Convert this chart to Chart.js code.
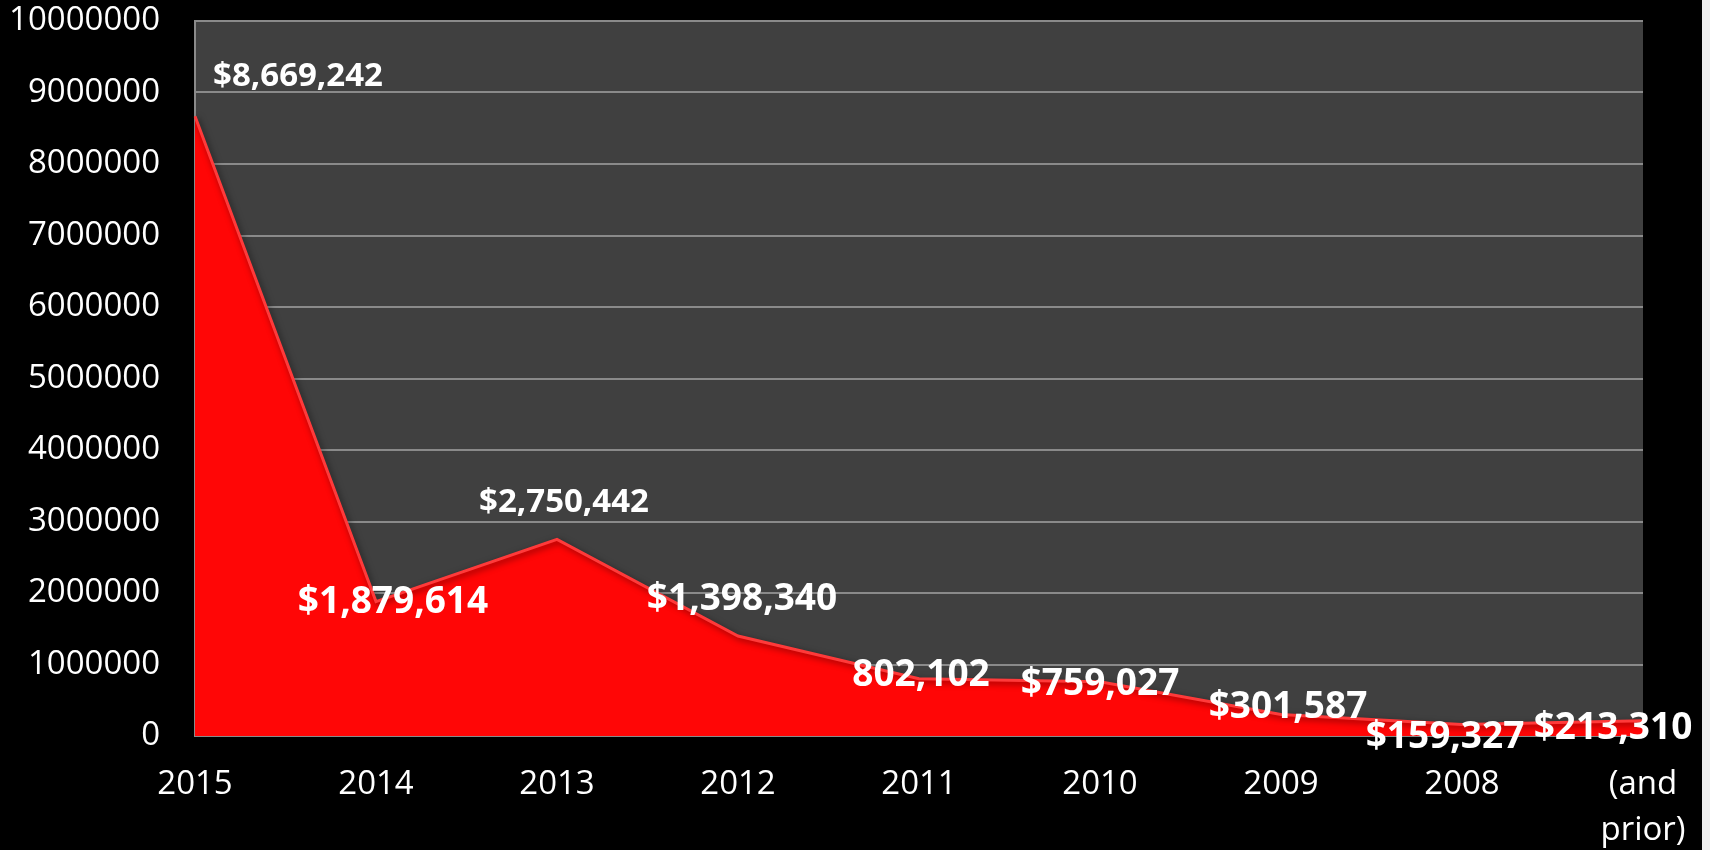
<!DOCTYPE html>
<html>
<head>
<meta charset="utf-8">
<script src="https://cdn.jsdelivr.net/npm/chart.js@4.4.1/dist/chart.umd.min.js"></script>
<style>
  html, body { margin: 0; padding: 0; background: #efefef; }
  #wrap { width: 1702px; height: 850px; background: #000; }
</style>
</head>
<body>
<div id="wrap"><canvas id="chart"></canvas></div>
<script>
// ================= DATA =================
const years = ["2015", "2014", "2013", "2012", "2011", "2010", "2009", "2008", ["(and", "prior)"]];
const amounts = [8669242, 1879614, 2750442, 1398340, 802102, 759027, 301587, 159327, 213310];
const amountLabels = ["$8,669,242", "$1,879,614", "$2,750,442", "$1,398,340", "802,102", "$759,027", "$301,587", "$159,327", "$213,310"];

// label placement (hand-moved in the original), offsets from each point
const labelNudge = [
    { dx: 103, dy: -40, size: 33 },
    { dx: 17,  dy: 1,   size: 37 },
    { dx: 7,   dy: -37, size: 33 },
    { dx: 4,   dy: -37, size: 37 },
    { dx: 2,   dy: -3,  size: 37 },
    { dx: 0,   dy: 3,   size: 37 },
    { dx: 7,   dy: -7,  size: 37 },
    { dx: -17, dy: 13,  size: 37 },
    { dx: -30, dy: 8,   size: 37 }
];

const FONT = "'Open Sans', 'Liberation Sans', sans-serif";
const CLEAR = 'rgba(0,0,0,0)';

// grey plot area behind everything
const plotBg = {
    id: 'plotBg',
    beforeDraw(chart) {
        const { ctx, chartArea: a } = chart;
        ctx.save();
        ctx.fillStyle = '#404040';
        ctx.fillRect(a.left, a.top, a.right - a.left, a.bottom - a.top);
        ctx.restore();
    }
};

// soft shadow under the area
const areaShadow = {
    id: 'areaShadow',
    beforeDatasetDraw(chart) {
        const ctx = chart.ctx;
        ctx.save();
        ctx.shadowColor = 'rgba(0,0,0,0.55)';
        ctx.shadowBlur = 6;
        ctx.shadowOffsetX = 2;
        ctx.shadowOffsetY = 2;
    },
    afterDatasetDraw(chart) {
        chart.ctx.restore();
    }
};

const valueLabels = {
    id: 'valueLabels',
    afterDatasetsDraw(chart) {
        const ctx = chart.ctx;
        const meta = chart.getDatasetMeta(0);
        ctx.save();
        ctx.fillStyle = '#ffffff';
        ctx.textAlign = 'center';
        ctx.textBaseline = 'middle';
        meta.data.forEach((pt, i) => {
            const n = labelNudge[i];
            ctx.font = "bold " + n.size + "px " + FONT;
            ctx.fillText(amountLabels[i], pt.x + n.dx, pt.y + n.dy);
        });
        ctx.restore();
    }
};

new Chart(document.getElementById("chart"), {
    type: 'line',
    data: {
        labels: years,
        datasets: [{
            data: amounts,
            fill: 'origin',
            backgroundColor: '#ff0606',
            borderColor: '#ff3a3a',
            borderWidth: 3,
            pointRadius: 0,
            tension: 0
        }]
    },
    options: {
        responsive: true,
        maintainAspectRatio: false,
        animation: false,
        layout: { padding: { top: 21, right: 59, bottom: 0, left: 0 } },
        plugins: {
            legend: { display: false },
            tooltip: { enabled: false }
        },
        scales: {
            x: {
                offset: false,
                // invisible tick marks used as the gap below the plot
                grid: { color: CLEAR, tickColor: CLEAR, drawOnChartArea: false, drawTicks: true, tickLength: 26 },
                border: { display: true, color: '#8a8a8a', width: 2 },
                ticks: {
                    color: '#ffffff',
                    font: { family: FONT, size: 33, lineHeight: '46px' },
                    padding: 0,
                    maxRotation: 0,
                    autoSkip: false
                },
                afterFit(scale) { scale.height = 114; }
            },
            y: {
                min: 0,
                max: 10000000,
                grid: { color: '#8a8a8a', lineWidth: 2, drawTicks: true, tickLength: 35, tickColor: CLEAR },
                border: { display: true, color: '#8a8a8a', width: 2 },
                ticks: {
                    stepSize: 1000000,
                    color: '#ffffff',
                    font: { family: FONT, size: 33 },
                    padding: 0,
                    callback: v => String(v)
                },
                afterFit(scale) { scale.width = 195; }
            }
        }
    },
    plugins: [plotBg, areaShadow, valueLabels]
});
</script>
</body>
</html>
